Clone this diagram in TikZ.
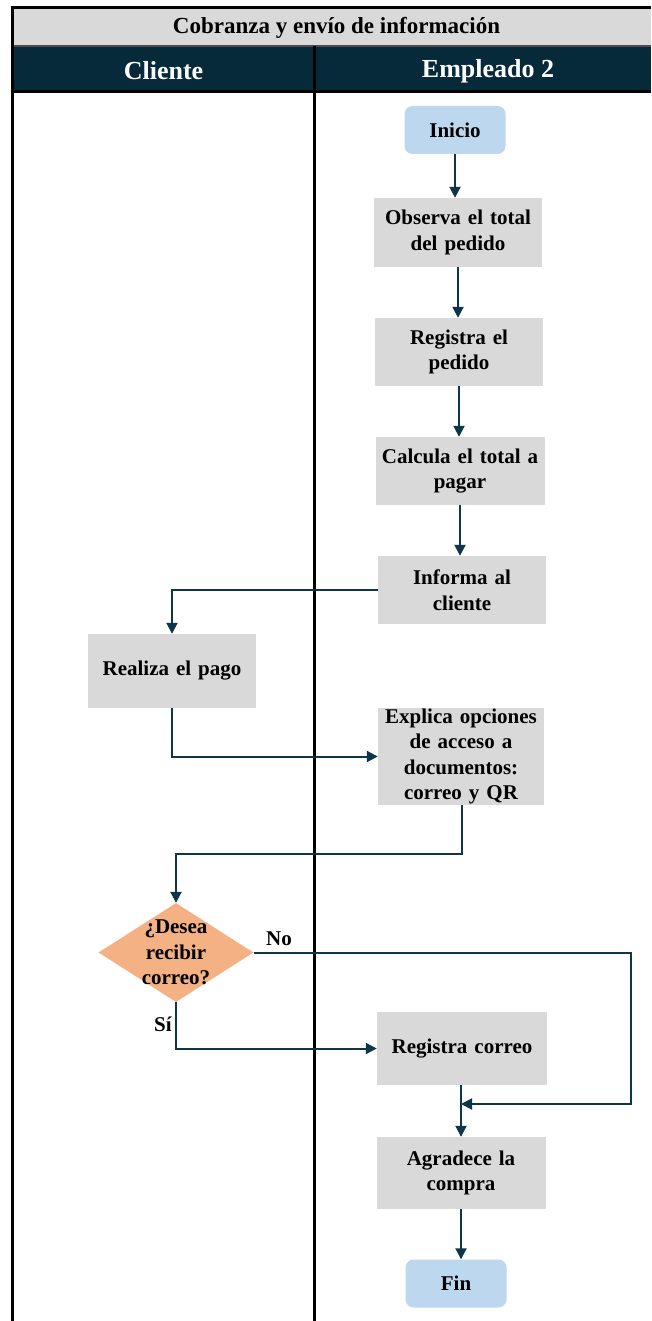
\documentclass[tikz,border=0pt]{standalone}
\usepackage{fontspec}
\setmainfont{Liberation Serif}
\usetikzlibrary{arrows.meta,shapes.geometric}

\definecolor{titlegrey}{HTML}{D9D9D9}
\definecolor{headnavy}{HTML}{072A3B}
\definecolor{boxgrey}{HTML}{D9D9D9}
\definecolor{startblue}{HTML}{BDD7EE}
\definecolor{decorange}{HTML}{F4B183}
\definecolor{flowline}{HTML}{0F3648}

\begin{document}
\begin{tikzpicture}[x=1pt,y=-1pt,
  txt/.style={font=\bfseries\fontsize{21}{25.5}\selectfont, align=center},
  procbox/.style={txt, fill=boxgrey, inner sep=0pt, text width=#1},
  procbox/.default=160pt,
  termbox/.style={txt, fill=startblue, rounded corners=8pt, inner sep=0pt,
    minimum width=101pt, minimum height=48pt},
  decbox/.style={diamond, fill=decorange, inner sep=0pt, minimum width=155pt,
    minimum height=99pt},
  arr/.style={draw=flowline, line width=2pt,
    -{Triangle[length=11pt,width=11pt]}},
  lane/.style={draw=black, line width=3pt},
  lbl/.style={font=\bfseries\fontsize{21}{25}\selectfont, inner sep=0pt},
  headtxt/.style={font=\bfseries\fontsize{26}{28}\selectfont, text=white, inner sep=0pt}
]
\useasboundingbox (0,0) rectangle (651,1321);
\fill[white] (0,0) rectangle (651,1321);

% table heading rows
\fill[titlegrey] (12,8) rectangle (651,46);
\fill[headnavy] (12,46) rectangle (651,91);
\draw[black!70, line width=1.5pt] (12,46) -- (651,46);
\node[font=\bfseries\fontsize{23}{26}\selectfont, inner sep=0pt] (title) at (336.5,28) {Cobranza y envío de información};
\node[headtxt] (hcli) at (163.5,71) {Cliente};
\node[headtxt] (hemp) at (488,71) {Empleado 2};

% lane borders
\draw[lane] (651,7.5) -- (12.5,7.5) -- (12.5,1321);
\draw[lane] (12,91.5) -- (651,91.5);
\draw[lane] (314.5,46) -- (314.5,1321);

% flow steps
\node[termbox] (ini) at (455,130) {Inicio};
\node[procbox=168pt, minimum height=69pt] (obs) at (458,232.5) {Observa el total\\del pedido};
\node[procbox=168pt, minimum height=68pt] (reg) at (459,352) {Registra el\\pedido};
\node[procbox=169pt, minimum height=68pt] (cal) at (460,471) {Calcula el total a\\pagar};
\node[procbox=168pt, minimum height=68pt] (inf) at (462,590) {Informa al\\cliente};
\node[procbox=168pt, minimum height=74pt] (pag) at (172,671) {Realiza el pago};
\node[procbox=166pt, minimum height=97pt] (exp) at (461,756.5) {Explica opciones\\de acceso a\\documentos:\\correo y QR};
\node[decbox] (dec) at (176,952.5) {};
\node[txt, inner sep=0pt] (dectxt) at (dec.center) {¿Desea\\recibir\\correo?};
\node[procbox=170pt, minimum height=73pt] (rco) at (462,1048.5) {Registra correo};
\node[procbox=169pt, minimum height=72pt] (agr) at (461,1173) {Agradece la\\compra};
\node[termbox] (fin) at (456,1283.5) {Fin};

% branch labels
\node[lbl] (lno) at (279,939) {No};
\node[lbl] (lsi) at (163,1024) {Sí};

% junction points of the bent connectors
\coordinate (jexp) at (462,854);
\coordinate (jno) at (631,1104);

% connectors
\draw[arr] (ini.south) -- (ini.south |- obs.north);
\draw[arr] (obs.south) -- (obs.south |- reg.north);
\draw[arr] (reg.south) -- (reg.south |- cal.north);
\draw[arr] (cal.south) -- (cal.south |- inf.north);
\draw[arr] (inf.west) -| (pag.north);
\draw[arr] (pag.south) |- (exp.west);
\draw[arr] (exp.south -| jexp) -- (jexp) -| (dec.north);
\draw[arr] (dec.south) |- (rco.west);
\draw[arr] (rco.south -| agr.north) -- (agr.north);
\draw[arr] (dec.east) -| (jno) -- (jno -| agr.north);
\draw[arr] (agr.south) -- (agr.south |- fin.north);
\end{tikzpicture}
\end{document}
